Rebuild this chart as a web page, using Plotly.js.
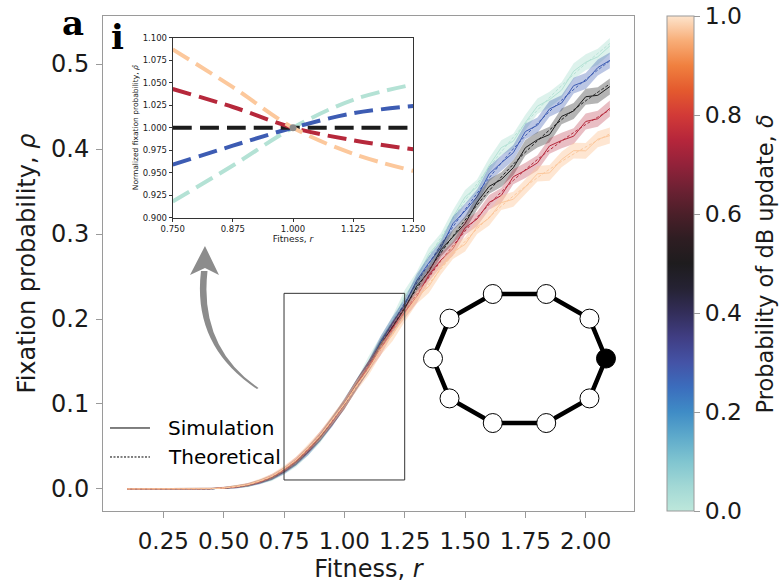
<!DOCTYPE html>
<html>
<head>
<meta charset="utf-8">
<script src="https://cdn.plot.ly/plotly-3.0.1.min.js"></script>
<style>
  html, body { margin: 0; padding: 0; background: #fff; }
  #chart { width: 779px; height: 583px; }
</style>
</head>
<body>
<div id="chart"></div>
<script>
// Probability of dB update for each series
const deltas = [0.0, 0.25, 0.5, 0.75, 1.0];
const seriesColors = ['#b4e2d5', '#3d5cb3', '#1c1c1c', '#b6283b', '#fcc89c'];
const bandColors = ['rgba(180,226,213,0.45)', 'rgba(61,92,179,0.35)', 'rgba(40,40,40,0.35)',
                    'rgba(182,40,59,0.30)', 'rgba(252,200,156,0.45)'];

// Simulation grid (fitness r)
const rSim = [0.10, 0.15, 0.20, 0.25, 0.30, 0.35, 0.40, 0.45, 0.50, 0.55, 0.60, 0.65, 0.70,
              0.75, 0.80, 0.85, 0.90, 0.95, 1.00, 1.05, 1.10, 1.15, 1.20, 1.25, 1.30, 1.35,
              1.40, 1.45, 1.50, 1.55, 1.60, 1.65, 1.70, 1.75, 1.80, 1.85, 1.90, 1.95, 2.00,
              2.05, 2.10];

// Simulated fixation probability, one array per delta
const simD000 = [0, 0, 0, 0, 0, 0.0000, 0.0001, 0.0003, 0.0009, 0.0022, 0.0040, 0.0077, 0.0123,
                 0.0202, 0.0298, 0.0437, 0.0591, 0.0790, 0.1005, 0.1221, 0.1493, 0.1735, 0.1967,
                 0.2267, 0.2479, 0.2762, 0.2928, 0.3199, 0.3435, 0.3555, 0.3806, 0.4016, 0.4092,
                 0.4313, 0.4504, 0.4581, 0.4693, 0.4916, 0.5021, 0.5085, 0.5213];
const simD025 = [0, 0, 0, 0, 0, 0.0000, 0.0001, 0.0003, 0.0011, 0.0022, 0.0046, 0.0078, 0.0134,
                 0.0205, 0.0314, 0.0440, 0.0610, 0.0788, 0.1008, 0.1222, 0.1448, 0.1728, 0.1957,
                 0.2165, 0.2455, 0.2661, 0.2839, 0.3123, 0.3272, 0.3439, 0.3707, 0.3837, 0.3957,
                 0.4206, 0.4280, 0.4472, 0.4540, 0.4746, 0.4800, 0.4958, 0.5043];
const simD050 = [0, 0, 0, 0, 0, 0.0000, 0.0001, 0.0004, 0.0010, 0.0026, 0.0045, 0.0088, 0.0135,
                 0.0221, 0.0318, 0.0462, 0.0609, 0.0806, 0.0993, 0.1231, 0.1440, 0.1697, 0.1916,
                 0.2120, 0.2387, 0.2556, 0.2814, 0.2968, 0.3122, 0.3374, 0.3561, 0.3640, 0.3780,
                 0.4015, 0.4110, 0.4170, 0.4384, 0.4447, 0.4615, 0.4632, 0.4735];
const simD075 = [0, 0, 0, 0, 0, 0.0000, 0.0001, 0.0004, 0.0013, 0.0025, 0.0051, 0.0087, 0.0148,
                 0.0223, 0.0337, 0.0464, 0.0630, 0.0800, 0.0996, 0.1222, 0.1444, 0.1639, 0.1894,
                 0.2081, 0.2264, 0.2516, 0.2693, 0.2827, 0.3072, 0.3177, 0.3372, 0.3453, 0.3674,
                 0.3749, 0.3837, 0.4036, 0.4100, 0.4151, 0.4324, 0.4356, 0.4478];
const simD100 = [0, 0, 0, 0, 0, 0.0000, 0.0002, 0.0004, 0.0012, 0.0029, 0.0052, 0.0097, 0.0150,
                 0.0240, 0.0341, 0.0486, 0.0631, 0.0818, 0.1003, 0.1215, 0.1401, 0.1642, 0.1813,
                 0.2042, 0.2254, 0.2384, 0.2604, 0.2788, 0.2878, 0.3084, 0.3188, 0.3369, 0.3409,
                 0.3554, 0.3709, 0.3719, 0.3876, 0.3981, 0.3979, 0.4116, 0.4158];

// Half-width of the shaded uncertainty band around each simulated curve
const bandHalf = [0.0008, 0.0008, 0.0008, 0.0008, 0.0008, 0.0008, 0.0009, 0.0010, 0.0012, 0.0015,
                  0.0019, 0.0023, 0.0028, 0.0033, 0.0038, 0.0043, 0.0048, 0.0053, 0.0057, 0.0061,
                  0.0065, 0.0068, 0.0071, 0.0074, 0.0076, 0.0078, 0.0080, 0.0082, 0.0084, 0.0085,
                  0.0087, 0.0088, 0.0089, 0.0090, 0.0091, 0.0092, 0.0092, 0.0093, 0.0093, 0.0094,
                  0.0094];

// Theoretical fixation probability
const rTheory = [0.1, 0.2, 0.3, 0.4, 0.5, 0.6, 0.7, 0.8, 0.9, 1.0, 1.1, 1.2, 1.3, 1.4, 1.5, 1.6,
                 1.7, 1.8, 1.9, 2.0, 2.1];
const thD000 = [0, 0, 0.0000, 0.0001, 0.0010, 0.0041, 0.0125, 0.0301, 0.0595, 0.1000, 0.1479,
                0.1988, 0.2488, 0.2959, 0.3392, 0.3784, 0.4138, 0.4457, 0.4745, 0.5005, 0.5241];
const thD025 = [0, 0, 0.0000, 0.0001, 0.0010, 0.0044, 0.0131, 0.0311, 0.0605, 0.1000, 0.1464,
                0.1950, 0.2424, 0.2872, 0.3287, 0.3661, 0.4001, 0.4302, 0.4575, 0.4818, 0.5037];
const thD050 = [0, 0, 0.0000, 0.0001, 0.0011, 0.0047, 0.0138, 0.0322, 0.0615, 0.1000, 0.1448,
                0.1912, 0.2358, 0.2778, 0.3164, 0.3510, 0.3821, 0.4097, 0.4345, 0.4567, 0.4765];
const thD075 = [0, 0, 0.0000, 0.0001, 0.0012, 0.0050, 0.0145, 0.0333, 0.0625, 0.1000, 0.1431,
                0.1874, 0.2292, 0.2681, 0.3034, 0.3349, 0.3630, 0.3876, 0.4093, 0.4288, 0.4460];
const thD100 = [0, 0, 0.0000, 0.0001, 0.0013, 0.0053, 0.0152, 0.0345, 0.0636, 0.1000, 0.1412,
                0.1832, 0.2228, 0.2589, 0.2914, 0.3198, 0.3447, 0.3663, 0.3854, 0.4024, 0.4179];

// Inset: theoretical probability normalised by the delta = 0.5 curve
const rInset = [0.75, 0.875, 1.0, 1.125, 1.25];
const normD000 = [0.918, 0.958, 1.000, 1.031, 1.048];
const normD025 = [0.959, 0.980, 1.000, 1.016, 1.024];
const normD050 = [1.000, 1.000, 1.000, 1.000, 1.000];
const normD075 = [1.043, 1.023, 1.000, 0.986, 0.976];
const normD100 = [1.087, 1.045, 1.000, 0.971, 0.952];

// Tick labels
const xTicks = [0.25, 0.50, 0.75, 1.00, 1.25, 1.50, 1.75, 2.00];
const yTicks = [0.0, 0.1, 0.2, 0.3, 0.4, 0.5];
const insetXTicks = [0.750, 0.875, 1.000, 1.125, 1.250];
const insetYTicks = [0.900, 0.925, 0.950, 0.975, 1.000, 1.025, 1.050, 1.075, 1.100];
const cbTicks = [0.0, 0.2, 0.4, 0.6, 0.8, 1.0];

// Cycle graph: number of nodes, index of the mutant node
const cycleSize = 10;
const mutantNode = 0;

const simSeries = [simD000, simD025, simD050, simD075, simD100];
const thSeries = [thD000, thD025, thD050, thD075, thD100];
const normSeries = [normD000, normD025, normD050, normD075, normD100];

// Seaborn-style "icefire" colour map
const icefire = [
  [0.00, '#bde7db'], [0.05, '#a2d8d5'], [0.10, '#80c5d0'], [0.15, '#5eaacb'],
  [0.20, '#3f8cc6'], [0.25, '#3b6dbd'], [0.30, '#4453a6'], [0.35, '#403e84'],
  [0.40, '#332e5a'], [0.45, '#252233'], [0.50, '#1e1c1e'], [0.55, '#2e1d22'],
  [0.60, '#4b1f29'], [0.65, '#6d2133'], [0.70, '#93223a'], [0.75, '#b6263b'],
  [0.80, '#d23a37'], [0.85, '#e45a2e'], [0.90, '#f0803f'], [0.95, '#f8ad77'],
  [1.00, '#fde4cc']
];

const FONT = 'DejaVu Sans, sans-serif';
const traces = [];

// Main panel: shaded bands, simulation lines, theory lines
simSeries.forEach((sim, k) => {
  const upper = sim.map((v, i) => v + bandHalf[i]);
  const lower = sim.map((v, i) => Math.max(0, v - bandHalf[i]));
  traces.push({
    type: 'scatter', mode: 'lines', xaxis: 'x', yaxis: 'y',
    x: rSim.concat(rSim.slice().reverse()),
    y: upper.concat(lower.slice().reverse()),
    fill: 'toself', fillcolor: bandColors[k], line: { width: 0 },
    hoverinfo: 'skip', showlegend: false
  });
  traces.push({
    type: 'scatter', mode: 'lines', xaxis: 'x', yaxis: 'y',
    x: rSim, y: sim, line: { color: seriesColors[k], width: 1 },
    hoverinfo: 'skip', showlegend: false
  });
  traces.push({
    type: 'scatter', mode: 'lines', xaxis: 'x', yaxis: 'y',
    x: rTheory, y: thSeries[k],
    line: { color: seriesColors[k], width: 1, dash: '3px,2px', shape: 'spline' },
    hoverinfo: 'skip', showlegend: false
  });
});

// Inset panel: normalised theory curves
normSeries.forEach((vals, k) => {
  traces.push({
    type: 'scatter', mode: 'lines', xaxis: 'x2', yaxis: 'y2',
    x: rInset, y: vals,
    line: { color: seriesColors[k], width: 4, dash: '19px,8px', shape: 'spline' },
    hoverinfo: 'skip', showlegend: false
  });
});
// Common crossing point at r = 1
traces.push({
  type: 'scatter', mode: 'markers', xaxis: 'x2', yaxis: 'y2',
  x: [rInset[2]], y: [normD050[2]],
  marker: { color: '#8a8a8a', size: 7 }, hoverinfo: 'skip', showlegend: false
});

// Cycle graph drawn on a circular layout
const angles = Array.from({ length: cycleSize }, (_, k) => 2 * Math.PI * k / cycleSize);
const nodeX = angles.map(a => Math.cos(a));
const nodeY = angles.map(a => Math.sin(a));
traces.push({
  type: 'scatter', mode: 'lines', xaxis: 'x3', yaxis: 'y3',
  x: nodeX.concat([nodeX[0]]), y: nodeY.concat([nodeY[0]]),
  line: { color: '#000', width: 4.5 }, hoverinfo: 'skip', showlegend: false
});
traces.push({
  type: 'scatter', mode: 'markers', xaxis: 'x3', yaxis: 'y3',
  x: nodeX, y: nodeY,
  marker: {
    size: 19,
    color: nodeX.map((_, k) => k === mutantNode ? '#000' : '#fff'),
    line: { color: '#000', width: 1 }
  },
  hoverinfo: 'skip', showlegend: false
});

// Colour bar for delta
traces.push({
  type: 'scatter', mode: 'markers', xaxis: 'x', yaxis: 'y',
  x: deltas.map(() => null), y: deltas.map(() => null),
  marker: {
    color: deltas, cmin: 0, cmax: 1, colorscale: icefire, showscale: true,
    colorbar: {
      x: 1.0621, xanchor: 'left', xref: 'paper', xpad: 0,
      y: 0, yanchor: 'bottom', yref: 'paper', ypad: 0,
      len: 1, lenmode: 'fraction', thickness: 27,
      outlinecolor: '#9a9a9a', outlinewidth: 1,
      ticks: 'outside', ticklen: 6, tickcolor: '#9a9a9a', tickwidth: 1,
      tickvals: cbTicks, ticktext: cbTicks.map(v => v.toFixed(1)),
      tickfont: { family: FONT, size: 23.5, color: '#1a1a1a' },
      title: { text: '' }
    }
  },
  hoverinfo: 'skip', showlegend: false
});

// Tapered curved arrow pointing from the zoom box up to the inset
const arrowShaft = 'M0.6379,0.1176 Q0.3687,0.1682 0.4060,0.2565 L0.4329,0.2565 Q0.3977,0.1671 0.6442,0.1188 Z';
const arrowHead = 'M0.3604,0.2518 L0.4225,0.2859 L0.4805,0.2518 L0.4225,0.2600 Z';

const layout = {
  width: 779, height: 583,
  margin: { l: 103, r: 145, t: 16, b: 72, autoexpand: false },
  paper_bgcolor: '#fff', plot_bgcolor: 'rgba(0,0,0,0)',
  font: { family: FONT, color: '#1a1a1a' },
  showlegend: false,
  xaxis: {
    domain: [0, 1], range: [0, 2.2], anchor: 'y',
    tickvals: xTicks, ticktext: xTicks.map(v => v.toFixed(2)),
    ticks: 'outside', ticklen: 6, tickcolor: '#9a9a9a', tickwidth: 1,
    ticklabelstandoff: 3,
    showline: true, linecolor: '#9a9a9a', linewidth: 1, mirror: true,
    showgrid: false, zeroline: false,
    tickfont: { size: 23, color: '#1a1a1a' },
    title: { text: 'Fitness, <i>r</i>', font: { size: 24, color: '#1a1a1a' }, standoff: 13 }
  },
  yaxis: {
    domain: [0, 1], range: [-0.0259, 0.5565], anchor: 'x',
    tickvals: yTicks, ticktext: yTicks.map(v => v.toFixed(1)),
    ticks: 'outside', ticklen: 6, tickcolor: '#9a9a9a', tickwidth: 1,
    ticklabelstandoff: 2,
    showline: true, linecolor: '#9a9a9a', linewidth: 1, mirror: true,
    showgrid: false, zeroline: false,
    tickfont: { size: 24, color: '#1a1a1a' },
    title: { text: 'Fixation probability, <i>ρ</i>', font: { size: 24, color: '#1a1a1a' }, standoff: 8 }
  },
  xaxis2: {
    domain: [0.1313, 0.5844], range: [0.75, 1.25], anchor: 'y2',
    tickvals: insetXTicks, ticktext: insetXTicks.map(v => v.toFixed(3)),
    ticks: 'outside', ticklen: 3, tickcolor: '#333', tickwidth: 1,
    showline: true, linecolor: '#333', linewidth: 1, mirror: true,
    showgrid: false, zeroline: false,
    tickfont: { size: 8.5, color: '#1a1a1a' },
    title: { text: 'Fitness, <i>r</i>', font: { size: 9, color: '#1a1a1a' }, standoff: 2 }
  },
  yaxis2: {
    domain: [0.5925, 0.9562], range: [0.9, 1.1], anchor: 'x2',
    tickvals: insetYTicks, ticktext: insetYTicks.map(v => v.toFixed(3)),
    ticks: 'outside', ticklen: 3, tickcolor: '#333', tickwidth: 1,
    showline: true, linecolor: '#333', linewidth: 1, mirror: true,
    showgrid: false, zeroline: false,
    tickfont: { size: 8.5, color: '#1a1a1a' },
    title: { text: 'Normalized fixation probability, <i>ρ̂</i>', font: { size: 7.5, color: '#1a1a1a' }, standoff: 3 }
  },
  xaxis3: { domain: [0.5889, 0.9798], range: [-1.2, 1.2], anchor: 'y3', visible: false, fixedrange: true },
  yaxis3: { domain: [0.1436, 0.4725], range: [-1.2, 1.2], anchor: 'x3', visible: false, fixedrange: true },
  shapes: [
    // zoom box matching the inset's fitness range
    { type: 'rect', xref: 'x', yref: 'y', x0: rInset[0], x1: rInset[4], y0: 0.0106, y1: 0.2302,
      line: { color: '#333', width: 1 }, fillcolor: 'rgba(0,0,0,0)' },
    { type: 'path', xref: 'x', yref: 'y', path: arrowShaft, fillcolor: '#8c8c8c', line: { width: 0 } },
    { type: 'path', xref: 'x', yref: 'y', path: arrowHead, fillcolor: '#8c8c8c', line: { width: 0 } },
    // legend samples
    { type: 'line', xref: 'paper', yref: 'paper', x0: 0.0132, x1: 0.0885, y0: 0.1677, y1: 0.1677,
      line: { color: '#000', width: 1 } },
    { type: 'line', xref: 'paper', yref: 'paper', x0: 0.0132, x1: 0.0885, y0: 0.1091, y1: 0.1091,
      line: { color: '#000', width: 1, dash: '2px,1.5px' } }
  ],
  annotations: [
    { xref: 'paper', yref: 'paper', x: 0.118, y: 0.1677, xanchor: 'left', yanchor: 'middle',
      text: 'Simulation', showarrow: false, font: { size: 20, color: '#000' } },
    { xref: 'paper', yref: 'paper', x: 0.118, y: 0.1091, xanchor: 'left', yanchor: 'middle',
      text: 'Theoretical', showarrow: false, font: { size: 20, color: '#000' } },
    // colour bar label
    { xref: 'paper', yref: 'paper', x: 1.2467, y: 0.5, xanchor: 'center', yanchor: 'middle',
      textangle: -90, text: 'Probability of dB update, <i>δ</i>', showarrow: false,
      font: { size: 22.5, color: '#1a1a1a' } },
    { xref: 'paper', yref: 'paper', x: -0.0565, y: 0.9859, xanchor: 'center', yanchor: 'middle',
      text: '<b>a</b>', showarrow: false, font: { family: 'DejaVu Serif, serif', size: 34, color: '#000' } },
    { xref: 'paper', yref: 'paper', x: 0.0273, y: 0.9576, xanchor: 'center', yanchor: 'middle',
      text: '<b>i</b>', showarrow: false, font: { family: 'DejaVu Serif, serif', size: 34, color: '#000' } }
  ]
};

Plotly.newPlot('chart', traces, layout, { staticPlot: true, displayModeBar: false });
</script>
</body>
</html>
